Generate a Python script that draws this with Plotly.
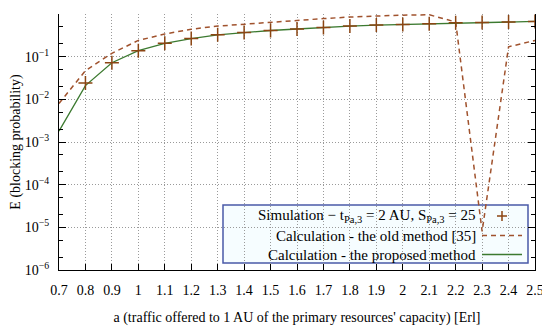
import plotly.graph_objects as go

# ---------------- data ----------------
a_values = [0.7, 0.8, 0.9, 1.0, 1.1, 1.2, 1.3, 1.4, 1.5, 1.6, 1.7, 1.8, 1.9,
            2.0, 2.1, 2.2, 2.3, 2.4, 2.5]

sim_a = [0.8, 0.9, 1.0, 1.1, 1.2, 1.3, 1.4, 1.5, 1.6, 1.7, 1.8, 1.9,
         2.0, 2.1, 2.2, 2.3, 2.4, 2.5]
sim_E = [0.024, 0.072, 0.138, 0.205, 0.265, 0.325, 0.37, 0.41, 0.445, 0.485,
         0.52, 0.55, 0.57, 0.59, 0.62, 0.635, 0.65, 0.67]

old_E = [0.008, 0.047, 0.12, 0.24, 0.34, 0.44, 0.52, 0.58, 0.65, 0.70, 0.78,
         0.85, 0.90, 0.94, 0.96, 0.65, 8e-6, 0.17, 0.24]

new_E = [0.0018, 0.021, 0.072, 0.138, 0.205, 0.265, 0.325, 0.37, 0.41, 0.445,
         0.485, 0.52, 0.55, 0.57, 0.59, 0.62, 0.635, 0.65, 0.67]

x_ticks = [0.7, 0.8, 0.9, 1.0, 1.1, 1.2, 1.3, 1.4, 1.5, 1.6, 1.7, 1.8, 1.9,
           2.0, 2.1, 2.2, 2.3, 2.4, 2.5]
x_ticktext = ["0.7", "0.8", "0.9", "1", "1.1", "1.2", "1.3", "1.4", "1.5",
              "1.6", "1.7", "1.8", "1.9", "2", "2.1", "2.2", "2.3", "2.4", "2.5"]
y_ticks = [1, 1e-1, 1e-2, 1e-3, 1e-4, 1e-5, 1e-6]
y_ticktext = ["10<sup>0</sup>", "10<sup>−1</sup>", "10<sup>−2</sup>",
              "10<sup>−3</sup>", "10<sup>−4</sup>", "10<sup>−5</sup>",
              "10<sup>−6</sup>"]

legend_labels = [
    "Simulation − t<sub>Pa,3</sub> = 2 AU, S<sub>Pa,3</sub> = 25",
    "Calculation - the old method [35]",
    "Calculation - the proposed method",
]

# ---------------- style ----------------
FONT = "Liberation Serif"
C_SIM = "#8b4513"
C_OLD = "#a0522d"
C_NEW = "#3c7a30"
C_LEG_BORDER = "#4a5aa8"
DASH = "5px,4px"

# the page body adds an 8px offset; size the figure to fill the rest
OFF = 8
W, H = 550 - OFF, 329 - OFF
# desired plot area in page pixels: x 59..535, y 14..270
ML, MT = 59 - OFF, 14 - OFF
MR = W - (535 - OFF)
MB = H - (270 - OFF)
PW, PH = W - ML - MR, H - MT - MB


def px_x(p):
    # page pixel -> paper x
    return (p - OFF - ML) / PW


def px_y(p):
    # page pixel -> paper y
    return (H - MB - (p - OFF)) / PH


fig = go.Figure()

fig.add_trace(go.Scatter(
    x=a_values, y=old_E, mode="lines",
    line=dict(color=C_OLD, width=1.5, dash=DASH),
    showlegend=False, name=legend_labels[1]))

fig.add_trace(go.Scatter(
    x=a_values, y=new_E, mode="lines",
    line=dict(color=C_NEW, width=1.3),
    showlegend=False, name=legend_labels[2]))

fig.add_trace(go.Scatter(
    x=sim_a, y=sim_E, mode="markers",
    marker=dict(symbol="cross-thin", size=10, color=C_SIM,
                line=dict(color=C_SIM, width=1.5)),
    showlegend=False, name=legend_labels[0]))

# ---------------- custom legend ----------------
shapes = []
annotations = []
shapes.append(dict(type="rect", xref="paper", yref="paper",
                   x0=px_x(223), x1=px_x(528), y0=px_y(263), y1=px_y(205),
                   line=dict(color=C_LEG_BORDER, width=1.5),
                   fillcolor="#f6fdff", layer="between"))

row_py = [216, 235.5, 254.5]
text_x = px_x(478)
for lbl, ry in zip(legend_labels, row_py):
    annotations.append(dict(text=lbl, xref="paper", yref="paper",
                            x=text_x, y=px_y(ry), xanchor="right",
                            yanchor="middle", showarrow=False,
                            font=dict(family=FONT, size=15, color="black")))

# sample: plus marker
cx, cy = 502, row_py[0]
shapes.append(dict(type="line", xref="paper", yref="paper",
                   x0=px_x(cx - 5), x1=px_x(cx + 5), y0=px_y(cy), y1=px_y(cy),
                   line=dict(color=C_SIM, width=1.5)))
shapes.append(dict(type="line", xref="paper", yref="paper",
                   x0=px_x(cx), x1=px_x(cx), y0=px_y(cy - 5), y1=px_y(cy + 5),
                   line=dict(color=C_SIM, width=1.5)))
# sample: dashed
shapes.append(dict(type="line", xref="paper", yref="paper",
                   x0=px_x(482), x1=px_x(522), y0=px_y(row_py[1]), y1=px_y(row_py[1]),
                   line=dict(color=C_OLD, width=1.5, dash=DASH)))
# sample: solid
shapes.append(dict(type="line", xref="paper", yref="paper",
                   x0=px_x(482), x1=px_x(522), y0=px_y(row_py[2]), y1=px_y(row_py[2]),
                   line=dict(color=C_NEW, width=1.3)))

fig.update_layout(
    width=W, height=H,
    margin=dict(l=ML, r=MR, t=MT, b=MB, pad=0, autoexpand=False),
    paper_bgcolor="white", plot_bgcolor="white",
    font=dict(family=FONT, size=14, color="black"),
    shapes=shapes, annotations=annotations,
    showlegend=False,
)

fig.update_xaxes(
    range=[0.7, 2.5], tickvals=x_ticks, ticktext=x_ticktext,
    automargin=False,
    showline=True, linecolor="black", linewidth=1, mirror=False,
    ticks="inside", ticklen=6, tickcolor="black", tickwidth=1,
    showgrid=True, gridcolor="#9a9a9a", griddash="1px,2px", gridwidth=1,
    zeroline=False, ticklabelstandoff=7,
    tickfont=dict(family=FONT, size=14),
    title=dict(text="a (traffic offered to 1 AU of the primary resources' capacity) [Erl]",
               font=dict(family=FONT, size=14)),
)

fig.update_yaxes(
    type="log", range=[-6, 0], tickvals=y_ticks, ticktext=y_ticktext,
    automargin=False,
    showline=True, linecolor="black", linewidth=1, mirror="ticks",
    ticks="inside", ticklen=7, tickcolor="black", tickwidth=1,
    minor=dict(ticks="inside", ticklen=4, tickcolor="black", showgrid=False),
    showgrid=True, gridcolor="#9a9a9a", griddash="1px,2px", gridwidth=1,
    zeroline=False, ticklabelstandoff=6,
    tickfont=dict(family=FONT, size=14),
    title=dict(text="E (blocking probability)",
               font=dict(family=FONT, size=14)),
)

fig.write_html("out.html")
